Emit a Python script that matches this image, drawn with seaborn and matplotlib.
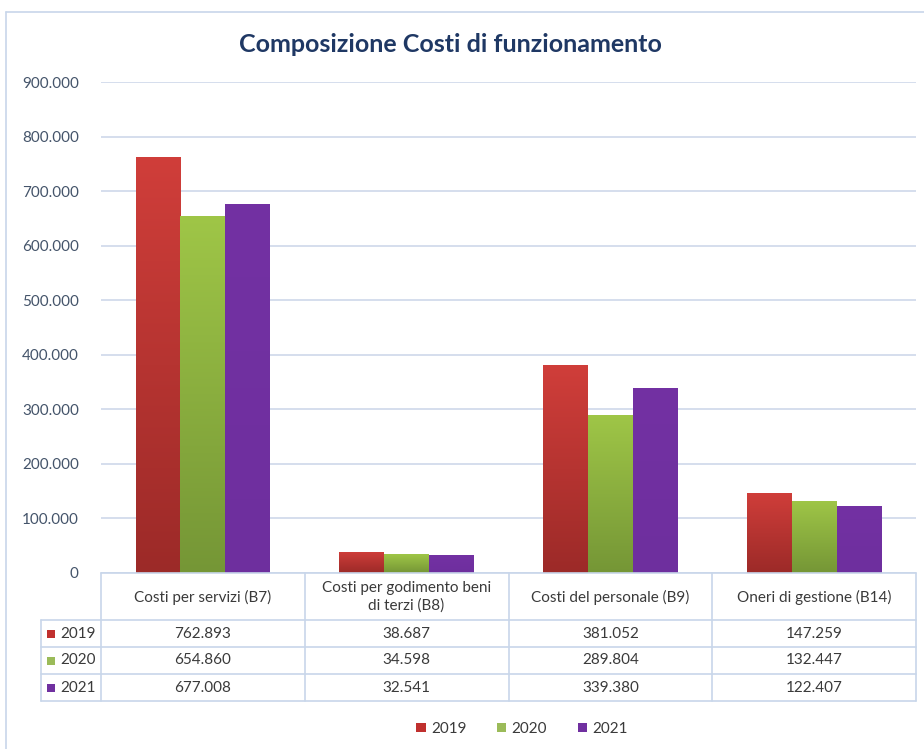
import numpy as np
import pandas as pd
import matplotlib
matplotlib.use("Agg")
import matplotlib.pyplot as plt
import matplotlib.transforms as mtransforms
from matplotlib.lines import Line2D
from matplotlib.patches import Rectangle
from matplotlib.colors import LinearSegmentedColormap
import seaborn as sns

# ---- data ---------------------------------------------------------------
title = "Composizione Costi di funzionamento"
categories = [
    "Costi per servizi (B7)",
    "Costi per godimento beni\ndi terzi (B8)",
    "Costi del personale (B9)",
    "Oneri di gestione (B14)",
]
years = ["2019", "2020", "2021"]
values_2019 = [762893, 38687, 381052, 147259]
values_2020 = [654860, 34598, 289804, 132447]
values_2021 = [677008, 32541, 339380, 122407]
y_ticks = [0, 100000, 200000, 300000, 400000, 500000, 600000, 700000, 800000, 900000]

# ---- styling ------------------------------------------------------------
sns.set_theme(style="white")
plt.rcParams["font.family"] = ["Lato", "DejaVu Sans"]

solid = {"2019": "#C0302E", "2020": "#9BBB59", "2021": "#7030A0"}
gradient = {
    "2019": ("#D03E3A", "#9C2A28"),
    "2020": ("#9FC647", "#759636"),
    "2021": ("#7331A3", "#6E2F9E"),
}
grid_col = "#D5DEED"
line_col = "#C8D6EA"
tick_col = "#44546A"
text_col = "#3A3A3A"


def fmt(v):
    return f"{v:,}".replace(",", ".")


series = {"2019": values_2019, "2020": values_2020, "2021": values_2021}
df = pd.DataFrame(
    [(c, y, v) for y in years for c, v in zip(categories, series[y])],
    columns=["categoria", "anno", "valore"],
)

W, H = 924, 749
fig = plt.figure(figsize=(W / 100, H / 100), dpi=100)
fig.patch.set_facecolor("white")


def fy(py):
    return 1 - py / H


def fx(px):
    return px / W


ax = fig.add_axes([fx(101), fy(573), fx(916) - fx(101), fy(82) - fy(573)])
sns.barplot(
    data=df, x="categoria", y="valore", hue="anno",
    order=categories, hue_order=years, palette=solid,
    width=0.66, saturation=1, errorbar=None, legend=False, ax=ax,
)

# vertical colour gradient on each bar
for year, container in zip(years, ax.containers):
    cmap = LinearSegmentedColormap.from_list(year, [gradient[year][1], gradient[year][0]])
    for patch in container.patches:
        x0, y0 = patch.get_x(), patch.get_y()
        w, h = patch.get_width(), patch.get_height()
        patch.set_edgecolor("none")
        img = ax.imshow(
            np.linspace(0, 1, 256).reshape(-1, 1), cmap=cmap, origin="lower",
            extent=[x0, x0 + w, y0, y0 + h], aspect="auto", zorder=2,
        )
        img.set_clip_path(patch)

ax.set_xlim(-0.5, len(categories) - 0.5)
ax.set_ylim(0, 900000)
ax.set_aspect("auto")
ax.set_yticks(y_ticks)
ax.set_yticklabels([fmt(v) for v in y_ticks])
ax.set_xticks([])
ax.set_xlabel("")
ax.set_ylabel("")
ax.grid(axis="y", color=grid_col, linewidth=1.4)
ax.set_axisbelow(True)
ax.tick_params(axis="y", length=0, pad=16, labelsize=11, labelcolor=tick_col)
for s in ax.spines.values():
    s.set_visible(False)

# ---- outer frame --------------------------------------------------------
fig.add_artist(Line2D([fx(6), fx(6)], [fy(12), 0], transform=fig.transFigure, color=line_col, lw=1.2))
fig.add_artist(Line2D([fx(6), 1], [fy(12), fy(12)], transform=fig.transFigure, color=line_col, lw=1.2))

# ---- title --------------------------------------------------------------
fig.text(fx(450), fy(44), title, ha="center", va="center", fontsize=18,
         fontweight="bold", color="#1F3864")

# ---- data table ---------------------------------------------------------
bt = mtransforms.blended_transform_factory(ax.transData, fig.transFigure)
row_lines = [620, 647, 674, 701]
row_centers = [633.5, 660.5, 687.5]
n = len(categories)

fig.add_artist(Line2D([-0.5, n - 0.5], [fy(573), fy(573)], transform=bt, color=line_col, lw=1.2))
for py in row_lines:
    fig.add_artist(Line2D([fx(41), fx(916)], [fy(py), fy(py)], transform=fig.transFigure, color=line_col, lw=1.2))
for xb in np.arange(n + 1) - 0.5:
    fig.add_artist(Line2D([xb, xb], [fy(573), fy(701)], transform=bt, color=line_col, lw=1.2))
fig.add_artist(Line2D([fx(41), fx(41)], [fy(620), fy(701)], transform=fig.transFigure, color=line_col, lw=1.2))

for i, cat in enumerate(categories):
    fig.text(i, fy(597), cat, transform=bt, ha="center", va="center",
             fontsize=11, color=text_col, linespacing=1.3)

for r, year in enumerate(years):
    yc = fy(row_centers[r])
    fig.add_artist(Rectangle((fx(47), yc - 4 / H), 8 / W, 8 / H, transform=fig.transFigure,
                             facecolor=solid[year], edgecolor="none"))
    fig.text(fx(60), yc, year, ha="left", va="center", fontsize=11, color=text_col)
    for i, v in enumerate(series[year]):
        fig.text(i, yc, fmt(v), transform=bt, ha="center", va="center",
                 fontsize=11, color=text_col)

# ---- legend -------------------------------------------------------------
handles = [Rectangle((0, 0), 1, 1, facecolor=solid[y], edgecolor="none") for y in years]
leg = fig.legend(handles, years, loc="center", bbox_to_anchor=(fx(522), fy(729)), ncol=3,
                 frameon=False, fontsize=11, handlelength=0.6, handleheight=0.6,
                 handletextpad=0.35, columnspacing=2.0)
for t in leg.get_texts():
    t.set_color(text_col)

fig.savefig("out.png", dpi=100, facecolor="white")
